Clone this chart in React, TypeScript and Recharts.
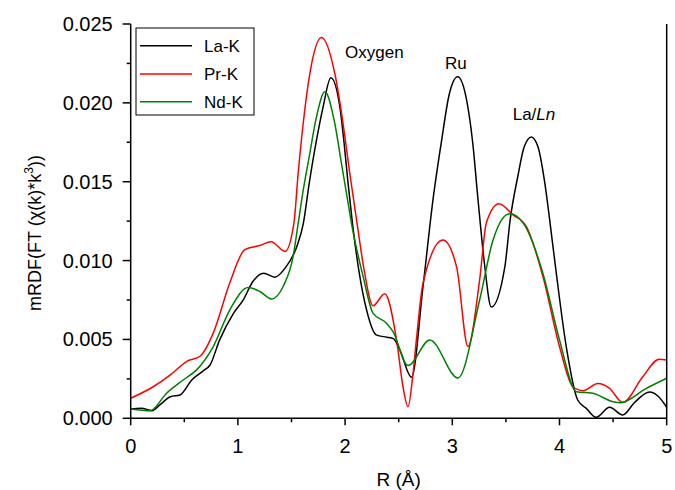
import { LineChart, Line, XAxis, YAxis } from "recharts";

// R in Å, mRDF values in units of 1e-3
const laR = [0, 0.1, 0.2, 0.28, 0.37, 0.46, 0.57, 0.68, 0.74, 0.83, 0.96, 1.05, 1.14, 1.24, 1.345, 1.44, 1.55, 1.61, 1.665, 1.733, 1.795, 1.867, 1.951, 1.988, 2.028, 2.069, 2.13, 2.2, 2.29, 2.39, 2.45, 2.51, 2.62, 2.727, 2.82, 2.9, 2.97, 3.05, 3.13, 3.19, 3.24, 3.3, 3.364, 3.49, 3.54, 3.61, 3.67, 3.737, 3.8, 3.861, 3.908, 3.97, 4.063, 4.17, 4.25, 4.343, 4.467, 4.59, 4.7, 4.84, 4.92, 5.0];
const laV = [0.59, 0.63, 0.48, 0.9, 1.37, 1.48, 2.43, 3.02, 3.38, 4.97, 6.67, 7.51, 8.67, 9.2, 8.95, 9.52, 10.9, 12.34, 14.88, 17.63, 19.75, 21.59, 19.75, 17.63, 14.88, 12.34, 9.3, 6.88, 5.29, 5.14, 5.05, 4.34, 2.6, 8.36, 13.86, 17.6, 20.5, 21.65, 20.3, 17.5, 13.86, 9.8, 7.05, 9.6, 12.6, 15.3, 17.2, 17.84, 17.2, 15.0, 12.6, 9.2, 4.55, 1.16, 0.63, 0.06, 0.7, 0.21, 1.0, 1.67, 1.4, 0.7];

const prR = [0, 0.21, 0.37, 0.52, 0.65, 0.77, 0.925, 1.065, 1.205, 1.31, 1.44, 1.522, 1.562, 1.609, 1.671, 1.78, 1.904, 1.981, 2.044, 2.112, 2.18, 2.26, 2.37, 2.48, 2.54, 2.587, 2.634, 2.665, 2.727, 2.913, 3.04, 3.146, 3.255, 3.318, 3.435, 3.566, 3.69, 3.845, 4.0, 4.125, 4.22, 4.358, 4.467, 4.59, 4.777, 4.93, 5.0];
const prV = [1.27, 2.0, 2.75, 3.6, 3.95, 5.4, 8.6, 10.7, 10.96, 11.2, 10.58, 12.34, 15.51, 18.69, 21.86, 24.15, 21.86, 18.69, 15.51, 12.34, 9.3, 7.13, 7.9, 4.97, 2.0, 0.74, 2.86, 4.97, 8.57, 11.3, 9.6, 4.55, 8.78, 12.4, 13.6, 12.9, 12.17, 9.0, 4.55, 2.0, 1.75, 2.2, 1.9, 1.0, 2.64, 3.75, 3.7];

const ndR = [0, 0.18, 0.335, 0.49, 0.615, 0.77, 0.925, 1.096, 1.205, 1.314, 1.422, 1.515, 1.562, 1.609, 1.665, 1.733, 1.811, 1.904, 1.966, 2.019, 2.06, 2.168, 2.26, 2.386, 2.447, 2.587, 2.79, 3.053, 3.255, 3.38, 3.535, 3.66, 3.845, 4.0, 4.157, 4.31, 4.5, 4.57, 4.81, 5.0];
const ndV = [0.59, 0.48, 1.59, 2.43, 3.07, 4.55, 6.88, 8.29, 8.04, 7.57, 8.36, 10.26, 12.34, 14.45, 16.57, 19.11, 20.7, 18.69, 16.15, 14.03, 12.34, 9.0, 6.67, 6.03, 5.5, 3.34, 4.97, 2.56, 7.5, 11.3, 12.97, 12.4, 9.2, 4.97, 1.69, 1.59, 1.05, 0.99, 1.9, 2.54];

const SERIES = ["La-K", "Pr-K", "Nd-K"];
const COLORS = ["#000000", "#ff0000", "#008000"];

const X_TICKS = [0, 0.5, 1, 1.5, 2, 2.5, 3, 3.5, 4, 4.5, 5];
const Y_TICKS = [0, 0.0025, 0.005, 0.0075, 0.01, 0.0125, 0.015, 0.0175, 0.02, 0.0225, 0.025];

const FONT = "'Liberation Sans', Arial, sans-serif";

const toData = (rs: number[], vs: number[]) => rs.map((r, i) => ({ r, v: vs[i] / 1000 }));
const datasets = [toData(laR, laV), toData(prR, prV), toData(ndR, ndV)];

const isMajorX = (v: number) => Number.isInteger(v);
const isMajorY = (v: number) => Math.abs(Math.round(v * 200) - v * 200) < 1e-6;

function BottomTick({ x, y, payload }: any) {
  const major = isMajorX(payload.value);
  return (
    <g>
      <line x1={x} x2={x} y1={y} y2={y + (major ? 7 : 4)} stroke="#000" strokeWidth={1.5} />
      {major && (
        <text x={x} y={y + 35} textAnchor="middle" fontSize={20} fontFamily={FONT} fill="#000">
          {payload.value}
        </text>
      )}
    </g>
  );
}

function LeftTick({ x, y, payload }: any) {
  const major = isMajorY(payload.value);
  return (
    <g>
      <line x1={x - (major ? 8 : 4)} x2={x} y1={y} y2={y} stroke="#000" strokeWidth={1.5} />
      {major && (
        <text x={x - 18} y={y + 7} textAnchor="end" fontSize={20} fontFamily={FONT} fill="#000">
          {payload.value.toFixed(3)}
        </text>
      )}
    </g>
  );
}

function TopTick({ x, y }: any) {
  return <line x1={x} x2={x} y1={y} y2={y + 7} stroke="#000" strokeWidth={1.5} />;
}

function RightTick({ x, y }: any) {
  return <line x1={x - 7} x2={x} y1={y} y2={y} stroke="#000" strokeWidth={1.5} />;
}

function Overlay() {
  const legendY = [45.7, 74, 101.7];
  return (
    <g fontFamily={FONT} fill="#000">
      {/* legend */}
      <rect x={136} y={28} width={118} height={87} fill="#fff" stroke="#000" strokeWidth={1} />
      {SERIES.map((s, i) => (
        <g key={s}>
          <line x1={140} x2={192} y1={legendY[i]} y2={legendY[i]} stroke={COLORS[i]} strokeWidth={1.5} />
          <text x={204} y={legendY[i] + 6} fontSize={17}>
            {s}
          </text>
        </g>
      ))}
      {/* peak annotations */}
      <text x={345} y={57.5} fontSize={17}>Oxygen</text>
      <text x={445} y={69} fontSize={17}>Ru</text>
      <text x={512.7} y={120} fontSize={17}>
        La/<tspan fontStyle="italic">Ln</tspan>
      </text>
      {/* axis titles */}
      <text x={398.7} y={486} fontSize={19} textAnchor="middle">
        R (Å)
      </text>
      <text transform="translate(41,233) rotate(-90)" fontSize={18} textAnchor="middle">
        mRDF(FT (χ(k)*k<tspan fontSize={12} dy={-8}>3</tspan>
        <tspan dy={8}>))</tspan>
      </text>
    </g>
  );
}

export default function App() {
  return (
    <div style={{ position: "fixed", left: 0, top: 0, width: 675, height: 490, background: "#fff" }}>
      <LineChart width={675} height={490} margin={{ top: 24, right: 7.3, bottom: 31.7, left: 70.7 }}>
        <XAxis
          dataKey="r"
          type="number"
          domain={[0, 5]}
          ticks={X_TICKS}
          interval={0}
          height={40}
          tickSize={0}
          tickMargin={0}
          tickLine={false}
          tick={<BottomTick />}
          axisLine={{ stroke: "#000", strokeWidth: 1.5 }}
          allowDuplicatedCategory={false}
        />
        <XAxis
          xAxisId="top"
          orientation="top"
          dataKey="r"
          type="number"
          domain={[0, 5]}
          ticks={X_TICKS}
          interval={0}
          height={0}
          tickSize={0}
          tickMargin={0}
          tickLine={false}
          tick={<TopTick />}
          axisLine={{ stroke: "#000", strokeWidth: 1.5 }}
        />
        <YAxis
          type="number"
          domain={[0, 0.025]}
          ticks={Y_TICKS}
          interval={0}
          width={60}
          tickSize={0}
          tickMargin={0}
          tickLine={false}
          tick={<LeftTick />}
          axisLine={{ stroke: "#000", strokeWidth: 1.5 }}
          allowDataOverflow
        />
        <YAxis
          yAxisId="right"
          orientation="right"
          type="number"
          domain={[0, 0.025]}
          ticks={Y_TICKS}
          interval={0}
          width={1}
          tickSize={0}
          tickMargin={0}
          tickLine={false}
          tick={<RightTick />}
          axisLine={{ stroke: "#000", strokeWidth: 1.5 }}
        />
        {datasets.map((d, i) => (
          <Line
            key={SERIES[i]}
            data={d}
            dataKey="v"
            name={SERIES[i]}
            type="monotone"
            stroke={COLORS[i]}
            strokeWidth={1.5}
            dot={false}
            activeDot={false}
            isAnimationActive={false}
          />
        ))}
        <Overlay />
      </LineChart>
    </div>
  );
}
